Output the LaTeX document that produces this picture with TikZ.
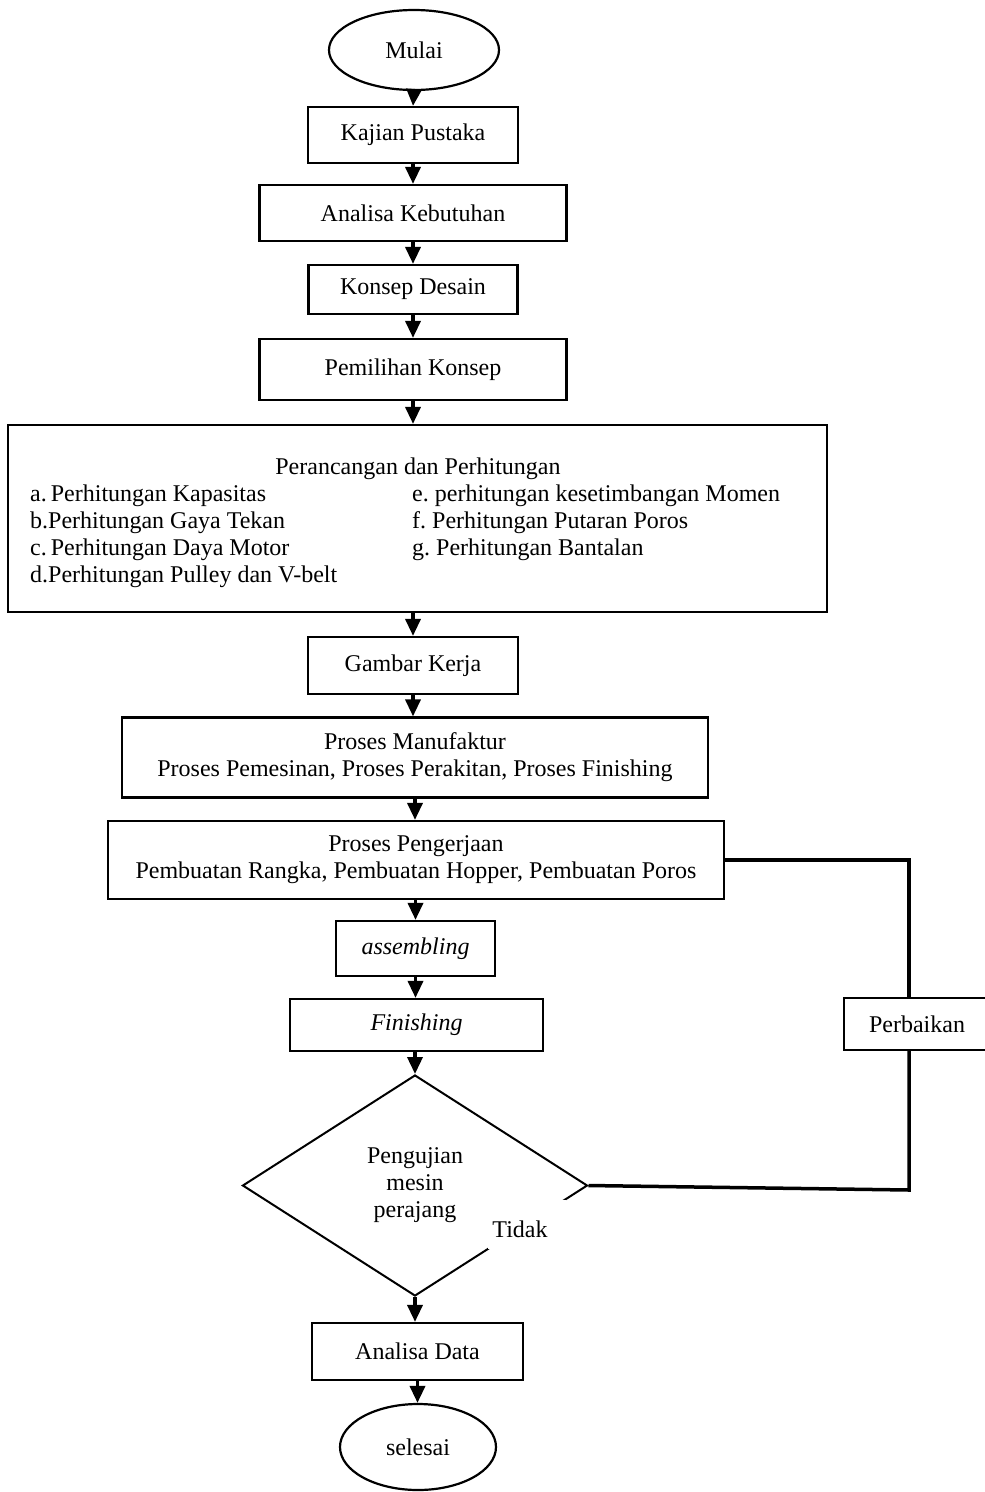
\documentclass[tikz,border=0pt]{standalone}
\usepackage{fontspec}
\setmainfont{Liberation Serif}
\frenchspacing
\usetikzlibrary{shapes.geometric,arrows.meta}
\begin{document}
\begin{tikzpicture}[x=1pt,y=-1pt,
  font=\fontsize{24}{27}\selectfont\frenchspacing,
  box/.style={draw, line width=2.2pt, rectangle, inner sep=0pt, align=center},
  term/.style={draw, line width=2.2pt, ellipse, inner sep=0pt},
  decis/.style={draw, line width=2pt, diamond, inner sep=0pt, align=center},
  arr/.style={line width=3.5pt, -{Triangle[length=17pt,width=15pt]}},
  loopline/.style={line width=3.5pt},
]
\useasboundingbox (0,0) rectangle (985,1492);
% nodes
\node[term, minimum width=170, minimum height=80] (mulai) at (414,50) {Mulai};
\node[box, minimum width=210, minimum height=56] (kajian) at (413,135) {Kajian Pustaka};
\node[box, minimum width=307, minimum height=56] (anal) at (413,213) {Analisa Kebutuhan};
\node[box, minimum width=209, minimum height=49] (konsep) at (413,289.5) {Konsep Desain};
\node[box, minimum width=307, minimum height=61] (pem) at (413,369.5) {Pemilihan Konsep};
\node[box, minimum width=819, minimum height=187] (perc) at (417.5,518.5) {};
\node[anchor=base] (perct) at (418,474) {Perancangan dan Perhitungan};
\node[anchor=base west, inner sep=0pt] (percl) at (30,501) {\begin{tabular}[t]{@{}l@{}}
a.\hspace{4pt}Perhitungan Kapasitas\\
b.Perhitungan Gaya Tekan\\
c.\hspace{4pt}Perhitungan Daya Motor\\
d.Perhitungan Pulley dan V-belt
\end{tabular}};
\node[anchor=base west, inner sep=0pt] (percr) at (412,501) {\begin{tabular}[t]{@{}l@{}}
e. perhitungan kesetimbangan Momen\\
f. Perhitungan Putaran Poros\\
g. Perhitungan Bantalan
\end{tabular}};
\node[box, minimum width=210, minimum height=57] (gambar) at (413,665.5) {Gambar Kerja};
\node[box, minimum width=586, minimum height=80] (manuf) at (415,757.5) {Proses Manufaktur\\Proses Pemesinan, Proses Perakitan, Proses Finishing};
\node[box, minimum width=616, minimum height=78] (peng) at (416,860) {Proses Pengerjaan\\Pembuatan Rangka, Pembuatan Hopper, Pembuatan Poros};
\node[box, minimum width=159, minimum height=55] (asm) at (415.5,948.5) {\textit{assembling}};
\node[box, minimum width=253, minimum height=52] (fin) at (416.5,1025) {\textit{Finishing}};
\node[box, minimum width=146, minimum height=52] (perb) at (917,1024) {Perbaikan};
\node[decis, minimum width=345, minimum height=221] (dia) at (415,1185.5) {Pengujian\\mesin\\perajang};
\fill[white] (488,1200) rectangle (566,1249);
\node (tidak) at (520,1229) {Tidak};
\node[box, minimum width=211, minimum height=57] (ad) at (417.5,1351.5) {Analisa Data};
\node[term, minimum width=156, minimum height=86] (sel) at (418,1447) {selesai};
% loop coordinates
\coordinate (lx) at (909,0);
\coordinate (c2) at (909,1190);
% arrows
\draw[arr] (mulai.south) -- (kajian.north);
\draw[arr] (kajian.south) -- (anal.north);
\draw[arr] (anal.south) -- (konsep.north);
\draw[arr] (konsep.south) -- (pem.north);
\draw[arr] (pem.south) -- (pem.south |- perc.north);
\draw[arr] (gambar.north |- perc.south) -- (gambar.north);
\draw[arr] (gambar.south) -- (gambar.south |- manuf.north);
\draw[arr] (manuf.south) -- (manuf.south |- peng.north);
\draw[arr] (asm.north |- peng.south) -- (asm.north);
\draw[arr] (asm.south) -- (asm.south |- fin.north);
\draw[arr] (dia.north |- fin.south) -- (dia.north);
\draw[arr] (dia.south) -- (dia.south |- ad.north);
\draw[arr] (ad.south) -- (ad.south |- sel.north);
% loop
\draw[loopline] (peng.east) -| (perb.north -| lx);
\draw[loopline] (perb.south -| lx) -- (c2) -- (dia.east);
\end{tikzpicture}
\end{document}
